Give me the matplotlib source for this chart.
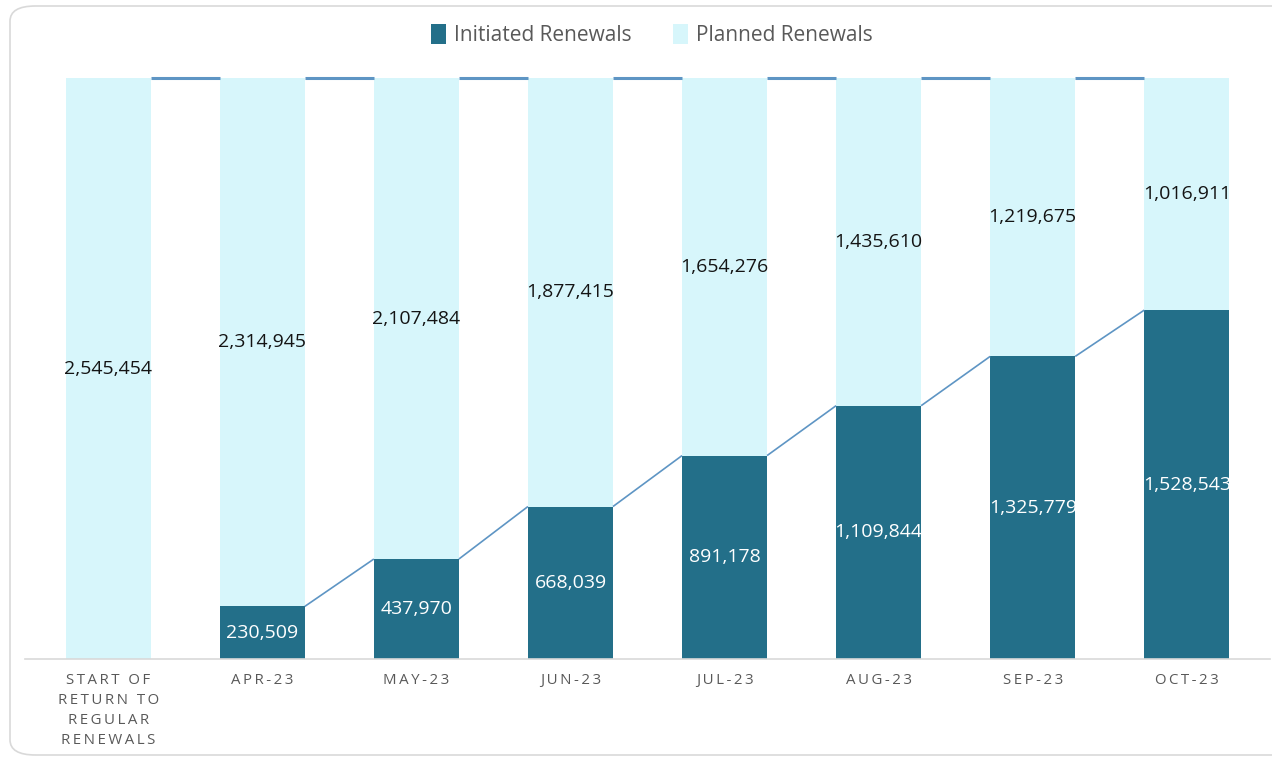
import matplotlib
matplotlib.use("Agg")
import matplotlib.pyplot as plt
from matplotlib.patches import FancyBboxPatch, Patch
import numpy as np

categories = ["START OF\nRETURN TO\nREGULAR\nRENEWALS", "APR-23", "MAY-23", "JUN-23",
              "JUL-23", "AUG-23", "SEP-23", "OCT-23"]
initiated = [0, 230509, 437970, 668039, 891178, 1109844, 1325779, 1528543]
planned = [2545454, 2314945, 2107484, 1877415, 1654276, 1435610, 1219675, 1016911]

DARK = "#236F89"
LIGHT = "#D7F6FB"
LINE = "#5E95C4"
GRAY = "#595959"
FONT = ["Open Sans", "DejaVu Sans"]

plt.rcParams['font.family'] = FONT

fig = plt.figure(figsize=(12.72, 7.58), dpi=100)
# rounded frame
frame = FancyBboxPatch((10 / 1272, 3 / 758), 1.2, 752 / 758 - 3 / 758,
                       boxstyle="round,pad=0,rounding_size=0.02",
                       transform=fig.transFigure, facecolor="none",
                       edgecolor="#D9D9D9", linewidth=1.2, zorder=-1)
fig.patches.append(frame)

ax = fig.add_axes([25 / 1272, 1 - 659 / 758, (1270 - 25) / 1272, (659 - 78) / 758])
ax.set_facecolor("none")

x = np.arange(len(categories))
w = 0.552
total = [a + b for a, b in zip(initiated, planned)]

bars_i = ax.bar(x, initiated, w, color=DARK, zorder=2)
bars_p = ax.bar(x, planned, w, bottom=initiated, color=LIGHT, zorder=2)

# connector lines
for i in range(len(x) - 1):
    if initiated[i] > 0:
        ax.plot([x[i] + w / 2, x[i + 1] - w / 2], [initiated[i], initiated[i + 1]],
                color=LINE, lw=1.2, zorder=3, solid_capstyle="butt")
    ax.plot([x[i] + w / 2, x[i + 1] - w / 2], [total[i], total[i + 1]],
            color=LINE, lw=2.2, zorder=3, solid_capstyle="butt", clip_on=False)

for i in range(len(x)):
    ax.text(x[i], initiated[i] + planned[i] / 2, f"{planned[i]:,}", ha="center", va="center",
            fontsize=14, color="#141414", zorder=4)
    if initiated[i] > 0:
        t2 = ax.text(x[i], initiated[i] / 2, f"{initiated[i]:,}", ha="center", va="center",
                     fontsize=14, color="white", zorder=4)
        t2.set_clip_path(bars_i[i])

ax.set_xlim(-0.54, len(x) - 1 + 0.54)
ax.set_ylim(0, max(total))

def spaced(s):
    return "\n".join("\u2009".join(list(line)) for line in s.split("\n"))

ax.set_xticks(x)
ax.set_xticklabels([spaced(c) for c in categories], fontsize=10.8, color=GRAY,
                   linespacing=1.45, va="top")
ax.tick_params(axis="x", length=0, pad=10)
ax.set_yticks([])
for s in ["top", "left", "right"]:
    ax.spines[s].set_visible(False)
ax.spines["bottom"].set_color("#D9D9D9")
ax.spines["bottom"].set_linewidth(1.2)

handles = [Patch(facecolor=DARK, label="Initiated Renewals"),
           Patch(facecolor=LIGHT, label="Planned Renewals")]
fig.legend(handles=handles, loc="center", bbox_to_anchor=(652 / 1272, 1 - 35 / 758),
           ncol=2, frameon=False, fontsize=15, labelcolor=GRAY,
           handlelength=0.7, handleheight=1.1, handletextpad=0.4, columnspacing=2.0)

fig.savefig("out.png", dpi=100)
